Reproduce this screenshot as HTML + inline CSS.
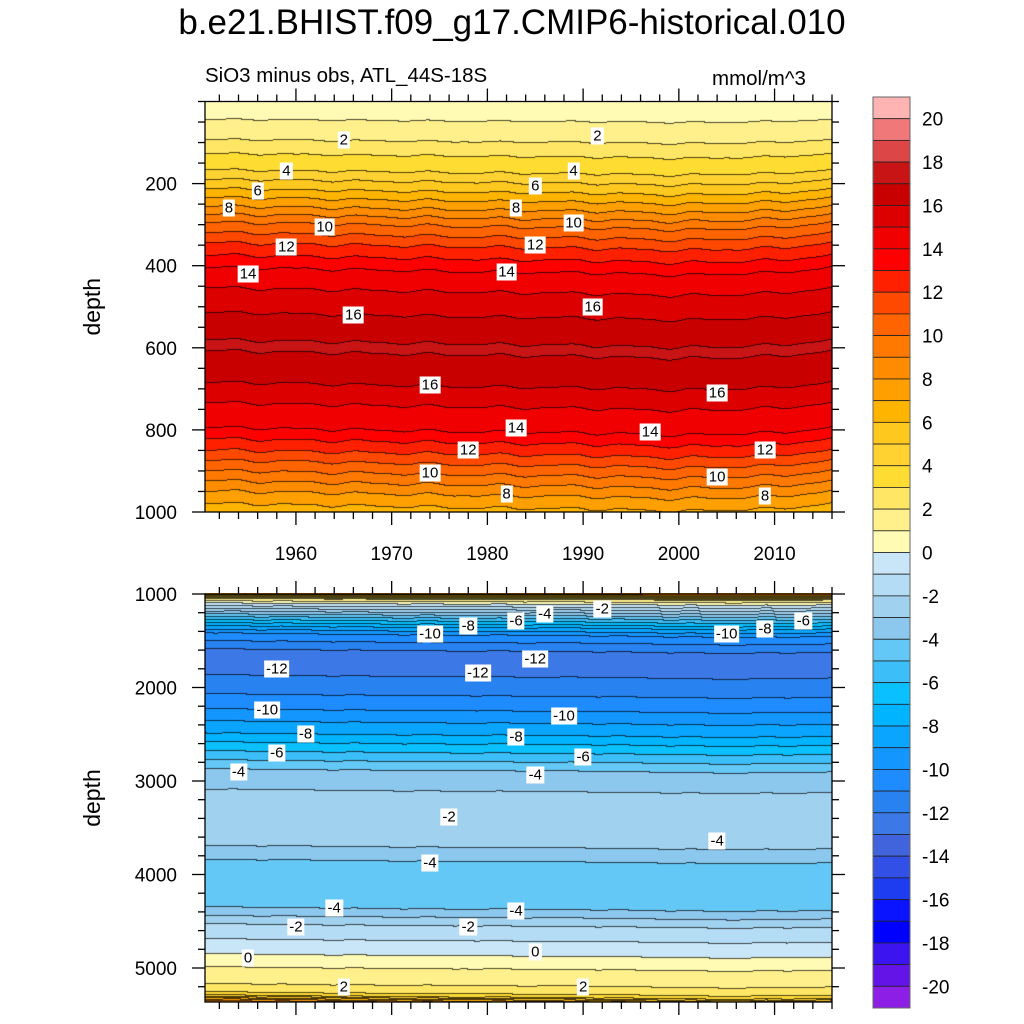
<!DOCTYPE html>
<html><head><meta charset="utf-8"><style>
body{margin:0;background:#fff;width:1024px;height:1024px;position:relative;overflow:hidden;font-family:"Liberation Sans",Arial,sans-serif;}
.t{position:absolute;white-space:nowrap;color:#000;}
canvas{position:absolute;}
.cl{position:absolute;background:#fff;font-size:15px;padding:0 2px;line-height:17px;transform:translate(-50%,-50%);}
</style></head><body>
<div class="t" style="left:0;width:1024px;text-align:center;top:3px;font-size:35px;">b.e21.BHIST.f09_g17.CMIP6-historical.010</div>
<div class="t" style="left:205px;top:64px;font-size:20.5px;">SiO3 minus obs, ATL_44S-18S</div>
<div class="t" style="left:712px;top:67px;font-size:20.5px;">mmol/m^3</div>
<canvas id="c1" width="627" height="411" style="left:205px;top:101px"></canvas>
<canvas id="c2" width="627" height="409" style="left:205px;top:593px"></canvas>
<svg id="ov" width="1024" height="1024" style="position:absolute;left:0;top:0"></svg>
<div id="labels"></div>
<script>
// ---- data ----
const topDepths=[0,30,45,95,130,170,217,260,300,350,410,460,520,560,600,640,690,740,800,855,905,955,1000];
const topValues=[0.4,0.8,1,2,3,4,6,8,10,12,14,15,16,16.8,17.1,16.8,16,15,14,12,10,8,6.5];
const topShiftYears=[1950,1960,1970,1980,1990,2000,2010,2016];
const topShift=[-8,-4,0,4,6,12,6,-6];
const botDepths=[1000,1020,1050,1100,1160,1250,1350,1430,1550,1700,1800,2000,2240,2500,2690,2880,3100,3400,3700,3850,4100,4250,4360,4540,4700,4860,5000,5150,5250,5300,5360];
const botValues=[8,5,2,0,-2,-5,-8,-10,-11.5,-13,-12.3,-11.5,-10,-8,-6,-4,-3,-2.2,-3,-4,-5,-4.8,-4,-2,-1,0,1,1.8,2.5,4,8];
const botShiftYears=[1950,1970,1990,2005,2016];
const botShift=[-20,0,10,30,20];
const warmColors=["#fffab4","#fff08c","#ffe664","#ffdc32","#ffd232","#ffc81e","#ffb400","#ffa000","#ff8c00","#ff7800","#ff6400","#ff4800","#ff2000","#ff0000","#f00000","#dc0000","#c80000","#c81414","#dc4646","#f07878","#ffb4b4"];
const coolColors=["#c8e6f8","#b4dcf4","#a0d2f0","#8cc8ee","#64c8f6","#3cbef8","#0ac0ff","#00b4ff","#0aa5ff","#1496ff","#1e8cff","#2882f0","#3c78e6","#4164dc","#3250e6","#1e3cf0","#0a14ff","#0000ff","#3c14f0","#6414e6","#8c1ee6"];
const xTicks=[1960,1970,1980,1990,2000,2010];
const topYTicks=[200,400,600,800,1000];
const botYTicks=[1000,2000,3000,4000,5000];
const cbLabels=[20,18,16,14,12,10,8,6,4,2,0,-2,-4,-6,-8,-10,-12,-14,-16,-18,-20];
const topLabels=[[1965,95,"2"],[1991.5,85,"2"],[1959,170,"4"],[1989,170,"4"],[1956,217,"6"],[1985,205,"6"],[1953,260,"8"],[1983,260,"8"],[1963,305,"10"],[1989,295,"10"],[1959,355,"12"],[1985,350,"12"],[1955,420,"14"],[1982,415,"14"],[1966,520,"16"],[1991,500,"16"],[1974,690,"16"],[2004,710,"16"],[1983,795,"14"],[1997,805,"14"],[1978,850,"12"],[2009,850,"12"],[1974,905,"10"],[2004,915,"10"],[1982,955,"8"],[2009,960,"8"]];
const botLabels=[[1992,1160,"-2"],[1986,1210,"-4"],[1983,1290,"-6"],[1978,1340,"-8"],[1974,1430,"-10"],[2005,1430,"-10"],[2009,1370,"-8"],[2013,1290,"-6"],[1958,1800,"-12"],[1979,1850,"-12"],[1985,1690,"-12"],[1957,2240,"-10"],[1988,2300,"-10"],[1961,2500,"-8"],[1983,2530,"-8"],[1958,2700,"-6"],[1990,2740,"-6"],[1954,2900,"-4"],[1985,2940,"-4"],[1976,3380,"-2"],[2004,3640,"-4"],[1974,3880,"-4"],[1964,4360,"-4"],[1983,4390,"-4"],[1960,4560,"-2"],[1978,4560,"-2"],[1955,4890,"0"],[1985,4830,"0"],[1965,5200,"2"],[1990,5200,"2"]];
// ---- scales ----
const X0=205,X1=832,YR0=1950.5,YR1=2016;
function xs(y){return X0+(y-YR0)/(YR1-YR0)*(X1-X0);}
function ysTop(d){return 101.5+d/1000*410.5;}
function ysBot(d){return 594+(d-1000)*0.0935;}
function interp(a,b,x){if(x<=a[0])return b[0];for(let i=1;i<a.length;i++){if(x<=a[i]){const t=(x-a[i-1])/(a[i]-a[i-1]);return b[i-1]+t*(b[i]-b[i-1]);}}return b[b.length-1];}
function hex(c){return [parseInt(c.substr(1,2),16),parseInt(c.substr(3,2),16),parseInt(c.substr(5,2),16)];}
const W=warmColors.map(hex),C=coolColors.map(hex);
function colIdx(v){return Math.floor(v);}
function colOf(k){if(k>=0)return W[Math.min(k,20)];return C[Math.min(-k-1,20)];}
function render(id,h,pyToDepth,depths,vals,shY,sh){
  const cv=document.getElementById(id),ctx=cv.getContext('2d');const w=cv.width;
  const img=ctx.createImageData(w,h);const K=new Int16Array(w*h);
  for(let px=0;px<w;px++){const yr=YR0+(px+0.5)/w*(YR1-YR0);const s=interp(shY,sh,yr)+3*Math.sin(yr*0.9)+1.5*Math.sin(yr*1.6+1);
    for(let py=0;py<h;py++){const d=pyToDepth(py+0.5);const v=interp(depths,vals,d-s*(0.3+0.7*Math.min(1,Math.abs(d-depths[0])/300)));K[py*w+px]=colIdx(v);}}
  for(let py=0;py<h;py++)for(let px=0;px<w;px++){const i=py*w+px,k=K[i];let c=colOf(k);
    const edge=(py>0&&K[i-w]!==k)||(px>0&&K[i-1]!==k);
    if(edge)c=[c[0]*0.3,c[1]*0.3,c[2]*0.3];
    img.data[i*4]=c[0];img.data[i*4+1]=c[1];img.data[i*4+2]=c[2];img.data[i*4+3]=255;}
  ctx.putImageData(img,0,0);
}
render('c1',411,py=>(py-0.5)/410.5*1000,topDepths,topValues,topShiftYears,topShift);
render('c2',409,py=>1000+(py-1)/0.0935,botDepths,botValues,botShiftYears,botShift);
// ---- overlay ----
const NS="http://www.w3.org/2000/svg",ov=document.getElementById('ov');
function el(t,a,name){const e=document.createElementNS(NS,t);for(const k in a)e.setAttribute(k,a[k]);
  
  
  ov.appendChild(e);return e;}
function line(x1,y1,x2,y2,name){el('line',{x1,y1,x2,y2,stroke:'#000','stroke-width':1.3},name);}
function txt(x,y,s,anchor,size,name){const e=el('text',{x,y,'text-anchor':anchor,'font-size':size,'font-family':'Liberation Sans, Arial, sans-serif'},name);e.textContent=s;}
const panels=[[101.5,512,ysTop,topYTicks,50,0],[594,1002,ysBot,botYTicks,200,1000]];
panels.forEach((p,pi)=>{const [t,b,ys,yt,minor,d0]=p;
  el('rect',{x:X0,y:t,width:X1-X0,height:b-t,fill:'none',stroke:'#000','stroke-width':1.3},'panel-frame');
  for(let yr=1952;yr<=2016;yr+=2){const x=xs(yr);const L=(yr%10===0)?13:7;
    line(x,t,x,t-L,'x-tick-top');line(x,b,x,b+L,'x-tick-bottom');}
  const dMax=pi===0?1000:5360;
  for(let d=d0;d<=dMax;d+=minor){const y=ys(d);if(y<t-0.5||y>b+0.5)continue;
    const L=yt.includes(d)?13:7;line(X0,y,X0-L,y,'y-tick-left');line(X1,y,X1+L,y,'y-tick-right');}
  yt.forEach(d=>txt(X0-28,ys(d)+7,String(d),'end',19,'y-tick-label'));
  const e=el('text',{x:0,y:0,'font-size':23,'text-anchor':'middle','font-family':'Liberation Sans, Arial, sans-serif',transform:`translate(100,${(t+b)/2}) rotate(-90)`},'y-axis-title');e.textContent='depth';
});
xTicks.forEach(yr=>txt(xs(yr),560,String(yr),'middle',19,'x-tick-label'));
// colorbar
const CB0=97,CB1=1008,cbH=(CB1-CB0)/42;
for(let i=0;i<42;i++){const y=CB0+i*cbH;const c=i<21?warmColors[20-i]:coolColors[i-21];
  el('rect',{x:873,y,width:37,height:cbH,fill:c,stroke:'#222','stroke-width':0.8},'colorbar-box');}
el('rect',{x:873,y:CB0,width:37,height:CB1-CB0,fill:'none',stroke:'#666','stroke-width':1},'colorbar-frame');
cbLabels.forEach(v=>{const y=CB0+(21-v)*cbH;txt(922,y+7,String(v),'start',19,'colorbar-label');});
// contour labels
const lab=document.getElementById('labels');
function addLab(arr,ys){arr.forEach(a=>{const d=document.createElement('div');d.className='cl';
  
  
  d.style.left=xs(a[0])+'px';d.style.top=ys(a[1])+'px';d.textContent=a[2];lab.appendChild(d);});}
addLab(topLabels,ysTop);addLab(botLabels,ysBot);
</script>
</body></html>
